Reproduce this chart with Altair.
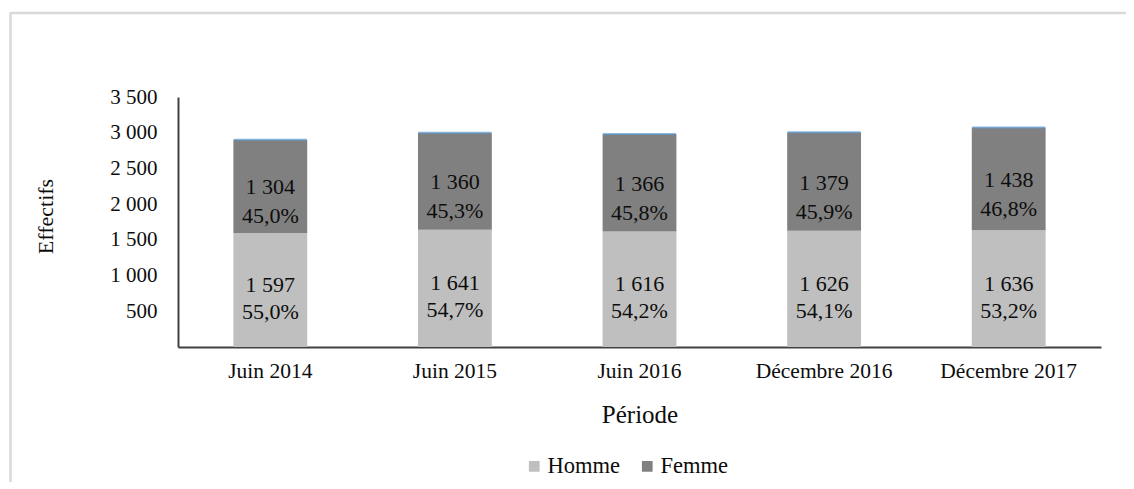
import altair as alt
import pandas as pd

periodes = ["Juin 2014", "Juin 2015", "Juin 2016", "Décembre 2016", "Décembre 2017"]
hommes = [1597, 1641, 1616, 1626, 1636]
femmes = [1304, 1360, 1366, 1379, 1438]
pct_hommes = ["55,0%", "54,7%", "54,2%", "54,1%", "53,2%"]
pct_femmes = ["45,0%", "45,3%", "45,8%", "45,9%", "46,8%"]
sexes = ["Homme", "Femme"]
couleurs = ["#bfbfbf", "#808080"]
y_ticks = [500, 1000, 1500, 2000, 2500, 3000, 3500]

FONT = "Times New Roman, Liberation Serif, DejaVu Serif, serif"
TXT = "#0d0d0d"


def fmt(v):
    return f"{v:,}".replace(",", " ")


rows = []
for i, p in enumerate(periodes):
    rows.append(dict(periode=p, sexe="Homme", ordre=0, effectif=hommes[i],
                     val=fmt(hommes[i]), pct=pct_hommes[i]))
    rows.append(dict(periode=p, sexe="Femme", ordre=1, effectif=femmes[i],
                     val=fmt(femmes[i]), pct=pct_femmes[i]))
df = pd.DataFrame(rows)
totals = pd.DataFrame({"periode": periodes,
                       "total": [h + f for h, f in zip(hommes, femmes)]})
one = pd.DataFrame({"k": [0]})

x_scale = alt.Scale(paddingInner=0.6, paddingOuter=0.3)
y_scale = alt.Scale(domain=[0, 3500], nice=False, zero=True)

x_axis = alt.Axis(
    title="Période", labelAngle=0, ticks=False, tickSize=0, grid=False,
    domainColor="#404040", domainWidth=2,
    labelFont=FONT, labelFontSize=21.5, labelColor=TXT, labelPadding=30,
    labelBaseline="alphabetic",
    titleFont=FONT, titleFontSize=25, titleFontWeight="normal", titleColor=TXT,
    titleY=75, titleBaseline="alphabetic",
)
y_axis = alt.Axis(
    title="Effectifs", values=y_ticks, ticks=False, tickSize=0, grid=False,
    domainColor="#404040", domainWidth=2,
    labelExpr="replace(format(datum.value, ','), ',', ' ')",
    labelFont=FONT, labelFontSize=21, labelColor=TXT, labelPadding=21,
    labelBaseline="middle",
    titleFont=FONT, titleFontSize=22, titleFontWeight="normal", titleColor=TXT,
    titleAngle=-90, titleX=-133, titleY=119, titleAlign="center",
    titleBaseline="middle",
)

base = alt.Chart(df).transform_stack(
    stack="effectif", groupby=["periode"], as_=["y0", "y1"],
    sort=[alt.SortField("ordre", order="ascending")],
).transform_calculate(ymid="(datum.y0 + datum.y1) / 2")

bars = base.mark_bar().encode(
    x=alt.X("periode:N", sort=periodes, scale=x_scale, axis=x_axis),
    y=alt.Y("y0:Q", scale=y_scale, axis=y_axis),
    y2="y1:Q",
    color=alt.Color(
        "sexe:N",
        scale=alt.Scale(domain=sexes, range=couleurs),
        legend=alt.Legend(
            title=None, orient="none", direction="horizontal",
            legendX=345, legendY=358, symbolType="square", symbolSize=115,
            symbolStrokeWidth=0, labelFont=FONT, labelFontSize=22.5,
            labelColor=TXT, labelOffset=2, columnPadding=16,
            labelBaseline="middle", padding=0,
        ),
    ),
)


def label_layer(sexe, field, dy):
    return base.transform_filter(alt.datum.sexe == sexe).mark_text(
        font=FONT, fontSize=22, color=TXT, baseline="middle", dy=dy
    ).encode(
        x=alt.X("periode:N", sort=periodes),
        y=alt.Y("ymid:Q", title="Effectifs"),
        text=f"{field}:N",
    )


labels = [
    label_layer("Femme", "val", 1),
    label_layer("Femme", "pct", 30),
    label_layer("Homme", "val", -5),
    label_layer("Homme", "pct", 22),
]

tops = alt.Chart(totals).mark_tick(color="#5b9bd5", thickness=2, size=73).encode(
    x=alt.X("periode:N", sort=periodes),
    y=alt.Y("total:Q", title="Effectifs"),
)

frame_top = alt.Chart(one).mark_rule(color="#d9d9d9", strokeWidth=2.5).encode(
    x=alt.value(-168), x2=alt.value(960), y=alt.value(-84)
)
frame_left = alt.Chart(one).mark_rule(color="#d9d9d9", strokeWidth=2.5).encode(
    x=alt.value(-167.5), y=alt.value(-85), y2=alt.value(400)
)

chart = alt.layer(bars, *labels, tops, frame_top, frame_left).properties(
    width=923, height=250,
    padding={"left": 170, "top": 89, "right": 25, "bottom": 135},
    autosize=alt.AutoSizeParams(type="none"),
    background="white",
).configure_view(stroke=None)

chart.save("out.html", embed_options={"renderer": "svg", "actions": False})
